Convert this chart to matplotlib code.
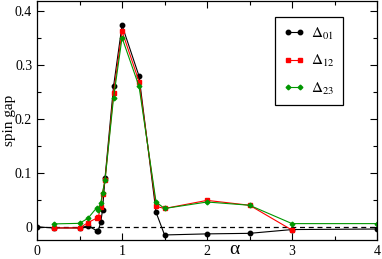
import matplotlib
matplotlib.use("Agg")
import matplotlib.pyplot as plt
from matplotlib.ticker import MultipleLocator

plt.rcParams['font.family'] = ['Liberation Serif', 'DejaVu Serif']
plt.rcParams['mathtext.fontset'] = 'stix'

# data
x01 = [0.0, 0.2, 0.5, 0.6, 0.7, 0.72, 0.75, 0.77, 0.8, 0.9, 1.0, 1.2, 1.4, 1.5, 2.0, 2.5, 3.0, 4.0]
gap01 = [0.0, -0.002, -0.002, 0.002, -0.007, -0.007, 0.009, 0.031, 0.091, 0.26, 0.373, 0.279,
         0.027, -0.015, -0.013, -0.012, -0.005, -0.004]

x12 = [0.2, 0.5, 0.6, 0.7, 0.72, 0.75, 0.77, 0.8, 0.9, 1.0, 1.2, 1.4, 1.5, 2.0, 2.5, 3.0]
gap12 = [-0.002, -0.002, 0.008, 0.016, 0.018, 0.037, 0.061, 0.087, 0.247, 0.362, 0.269,
         0.038, 0.034, 0.049, 0.040, -0.006]

x23 = [0.2, 0.5, 0.6, 0.7, 0.72, 0.75, 0.77, 0.8, 0.9, 1.0, 1.2, 1.4, 1.5, 2.0, 2.5, 3.0, 4.0]
gap23 = [0.0055, 0.0065, 0.016, 0.035, 0.032, 0.044, 0.063, 0.087, 0.239, 0.35, 0.26,
         0.046, 0.034, 0.046, 0.040, 0.006, 0.006]

fig = plt.figure(figsize=(3.82, 2.59), dpi=100)
ax = fig.add_axes([0.097, 0.073, 0.890, 0.923])

ax.axhline(0, color='black', ls='--', lw=0.9, dashes=(4, 3), zorder=1)

ax.plot(x01, gap01, '-o', color='black', lw=0.8, ms=3.2, label=r'$\Delta_{01}$')
ax.plot(x12, gap12, '-s', color='#ff0000', lw=0.8, ms=3.0, label=r'$\Delta_{12}$')
ax.plot(x23, gap23, '-D', color='#009600', lw=0.8, ms=2.4, label=r'$\Delta_{23}$')

ax.set_xlim(0, 4)
ax.set_ylim(-0.0245, 0.418)
ax.xaxis.set_major_locator(MultipleLocator(1))
ax.xaxis.set_minor_locator(MultipleLocator(0.5))
ax.yaxis.set_major_locator(MultipleLocator(0.1))
ax.yaxis.set_minor_locator(MultipleLocator(0.05))
ax.set_yticks([0, 0.1, 0.2, 0.3, 0.4])
ax.set_yticklabels(['0', '0.1', '0.2', '0.3', '0.4'])
ax.tick_params(which='both', direction='in', top=True, right=True, labelsize=10)
ax.tick_params(which='major', length=5, width=0.8)
ax.tick_params(which='minor', length=3, width=0.8)
for s in ax.spines.values():
    s.set_linewidth(0.9)

ax.set_ylabel('spin gap', fontsize=11)
ax.yaxis.set_label_coords(-0.062, 0.5)
ax.set_xlabel('α', fontsize=14)
ax.xaxis.set_label_coords(0.58, -0.004)

leg = ax.legend(loc='upper left', bbox_to_anchor=(0.70, 0.933), borderaxespad=0,
                numpoints=2, fancybox=False, edgecolor='black', framealpha=1,
                fontsize=11, handlelength=1.4, handletextpad=0.4, labelspacing=0.75,
                borderpad=0.55)
leg.get_frame().set_linewidth(0.9)

fig.savefig('out.png', dpi=100)
